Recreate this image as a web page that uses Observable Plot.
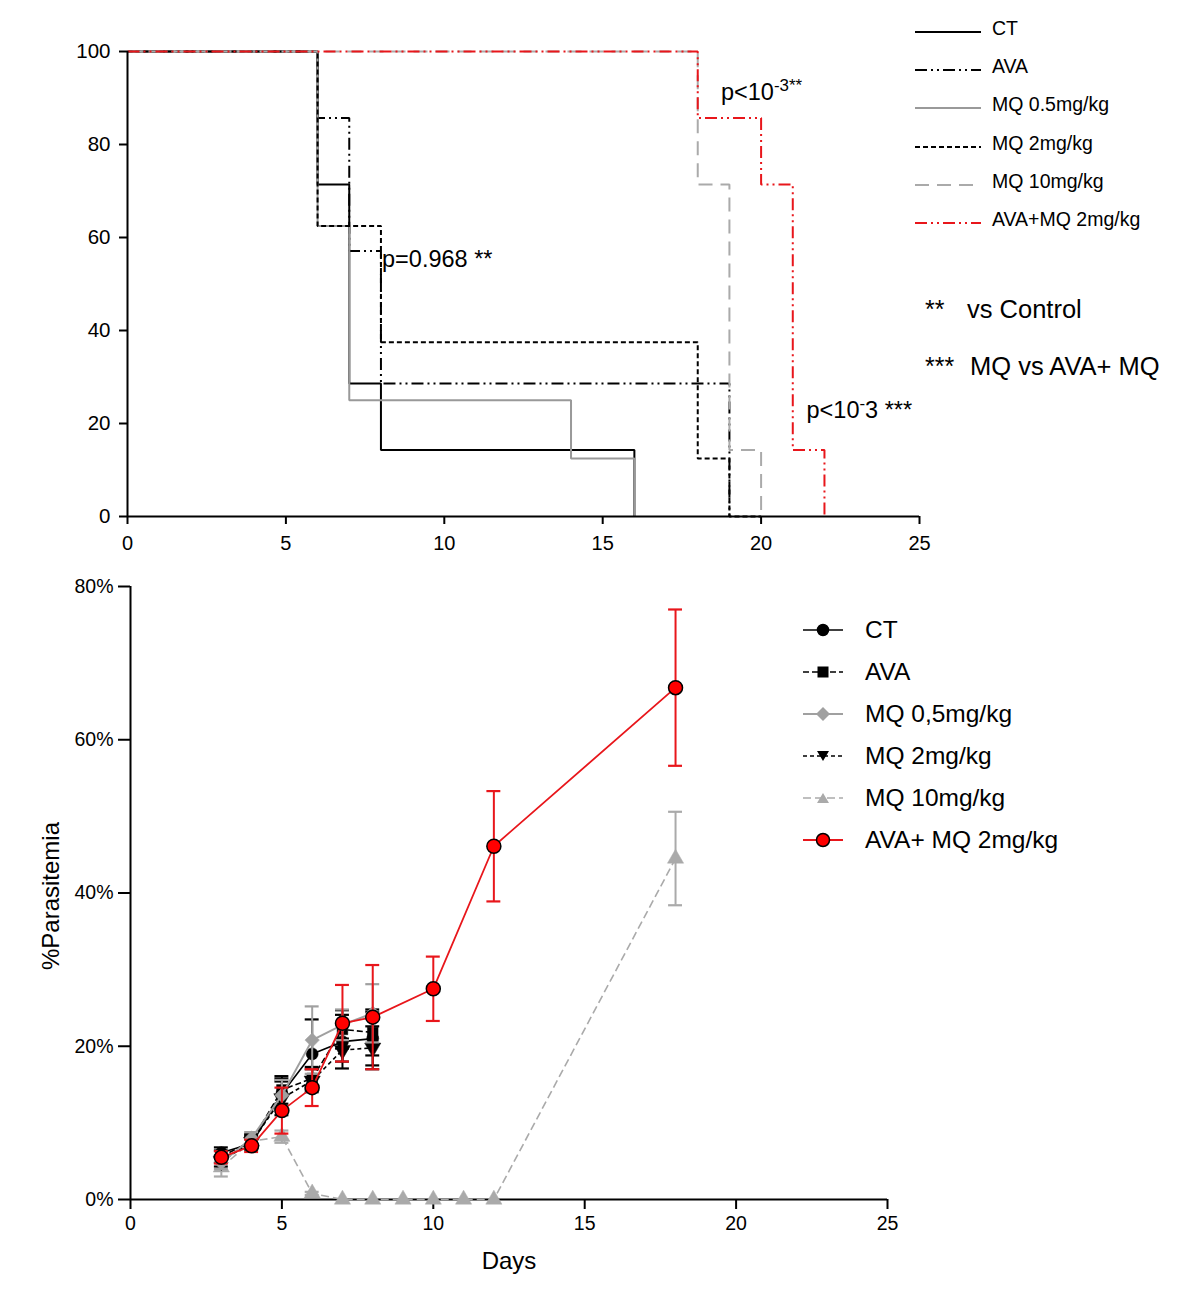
<!DOCTYPE html>
<html><head><meta charset="utf-8">
<script src="https://cdn.jsdelivr.net/npm/d3@7"></script>
<script src="https://cdn.jsdelivr.net/npm/@observablehq/plot@0.6"></script>
<style>
body{margin:0;background:#fff;font-family:"Liberation Sans",Arial,sans-serif;color:#000;}
#wrap{position:relative;width:1200px;height:1292px;overflow:hidden;}
#top,#bottom{position:absolute;left:0;}
#top{top:0}
#bottom{top:560px}
.abs{position:absolute;white-space:nowrap;line-height:1;}
.abs sup{font-size:0.72em;vertical-align:0.55em;line-height:0;}
</style></head><body><div id="wrap"><div id="top"></div><div id="bottom"></div></div>
<script>
// ---------- Top: survival (Kaplan-Meier) ----------
const kmSeries = ["CT", "AVA", "MQ 0.5mg/kg", "MQ 2mg/kg", "MQ 10mg/kg", "AVA+MQ 2mg/kg"];
const kmTimes = [
  [0, 6, 7, 8, 16],
  [0, 6, 7, 8, 19],
  [0, 6, 7, 14, 16],
  [0, 6, 8, 18, 19, 20],
  [0, 18, 19, 20],
  [0, 18, 20, 21, 22]
];
const kmSurv = [
  [100, 71.4, 28.6, 14.3, 0],
  [100, 85.7, 57.1, 28.6, 0],
  [100, 62.5, 25, 12.5, 0],
  [100, 62.5, 37.5, 12.5, 0, 0],
  [100, 71.4, 14.3, 0],
  [100, 85.7, 71.4, 14.3, 0]
];
const kmXTicks = [0, 5, 10, 15, 20, 25];
const kmYTicks = [0, 20, 40, 60, 80, 100];
const kmNotes = [
  {x: 8.05, y: 55, html: "p=0.968 **"},
  {x: 18.75, y: 91, html: "p&lt;10<sup>-3**</sup>"},
  {x: 21.45, y: 22.5, html: "p&lt;10<sup>-</sup>3 ***"}
];
const kmStatNotes = [["**", "vs Control"], ["***", "MQ vs AVA+ MQ"]];

// ---------- Bottom: parasitemia ----------
const parSeries = ["CT", "AVA", "MQ 0,5mg/kg", "MQ 2mg/kg", "MQ 10mg/kg", "AVA+ MQ 2mg/kg"];
const parDays = [
  [3, 4, 5, 6, 7, 8],
  [3, 4, 5, 6, 7, 8],
  [3, 4, 5, 6, 7, 8],
  [3, 4, 5, 6, 7, 8],
  [3, 4, 5, 6, 7, 8, 9, 10, 11, 12, 18],
  [3, 4, 5, 6, 7, 8, 10, 12, 18]
];
const parValues = [
  [6.1, 7.3, 13.8, 19.0, 20.6, 21.0],
  [5.6, 7.6, 14.3, 15.8, 22.2, 21.8],
  [4.8, 8.0, 13.6, 20.8, 22.8, 24.3],
  [5.0, 7.5, 13.2, 15.5, 19.5, 19.8],
  [4.2, 7.6, 8.2, 0.8, 0, 0, 0, 0, 0, 0, 44.5],
  [5.5, 7.0, 11.6, 14.6, 23.0, 23.8, 27.5, 46.1, 66.8]
];
const parErrors = [
  [0.7, 0.8, 2.0, 4.5, 3.5, 3.5],
  [0.8, 0.9, 1.8, 1.5, 2.5, 3.0],
  [0.8, 0.8, 2.0, 4.4, 2.0, 3.8],
  [0.7, 0.8, 2.2, 1.5, 1.5, 2.8],
  [1.2, 1.0, 0.8, 0.2, 0, 0, 0, 0, 0, 0, 6.1],
  [0.8, 0.8, 3.0, 2.4, 5.0, 6.8, 4.2, 7.2, 10.2]
];
const parXTicks = [0, 5, 10, 15, 20, 25];
const parYTicks = [0, 20, 40, 60, 80];

// ---------- styles ----------
const FONT = '"Liberation Sans", Arial, Helvetica, sans-serif';
const kmStyle = [
  {stroke: "#000", width: 2, dash: null},
  {stroke: "#000", width: 2, dash: "12,4,2,4,2,4"},
  {stroke: "#999", width: 2, dash: null},
  {stroke: "#000", width: 2, dash: "5,3"},
  {stroke: "#aaa", width: 2, dash: "14,8"},
  {stroke: "#e8161b", width: 2, dash: "12,4,2,4,2,4"}
];
const parStyle = [
  {stroke: "#000", fill: "#000", width: 1.6, dash: null, symbol: "circle", r: 6, rotate: 0},
  {stroke: "#000", fill: "#000", width: 1.6, dash: "6,3", symbol: "square", r: 6, rotate: 0},
  {stroke: "#a0a0a0", fill: "#a0a0a0", width: 2, dash: null, symbol: "diamond2", r: 6.5, rotate: 0},
  {stroke: "#000", fill: "#000", width: 1.6, dash: "4,3", symbol: "triangle", r: 6, rotate: 180},
  {stroke: "#aaa", fill: "#aaa", width: 1.6, dash: "8,4", symbol: "triangle", r: 6, rotate: 0},
  {stroke: "#e8161b", fill: "#ff0000", width: 1.8, dash: null, symbol: "circle", r: 7, rotate: 0}
];

// ---------- top plot ----------
const kmRows = kmSeries.map((s, i) => kmTimes[i].map((t, j) => ({series: s, t, surv: kmSurv[i][j]})));
const topPlot = Plot.plot({
  width: 1200, height: 560,
  marginLeft: 127, marginRight: 281, marginTop: 51, marginBottom: 44,
  style: {fontFamily: FONT, fontSize: "20px", color: "#000", background: "transparent", overflow: "visible"},
  x: {domain: [0, 25]},
  y: {domain: [0, 100]},
  marks: [
    Plot.axisX({ticks: kmXTicks, tickSize: 8, tickPadding: 11, strokeWidth: 2, label: null, fontSize: 20, tickFormat: d => d}),
    Plot.axisY({ticks: kmYTicks, tickSize: 8, tickPadding: 9, strokeWidth: 2, label: null, fontSize: 20.5, tickFormat: d => d}),
    ...kmRows.map((rows, i) => Plot.line(rows, {
      x: "t", y: "surv", curve: "step-after",
      stroke: kmStyle[i].stroke, strokeWidth: kmStyle[i].width,
      strokeDasharray: kmStyle[i].dash, strokeLinecap: "butt", strokeLinejoin: "miter"
    })),
    Plot.ruleX([0], {strokeWidth: 2}),
    Plot.ruleY([0], {strokeWidth: 2})
  ]
});
document.getElementById("top").appendChild(topPlot);

// ---------- bottom plot ----------
const parRows = parSeries.map((s, i) => parDays[i].map((d, j) => ({series: s, day: d, v: parValues[i][j], e: parErrors[i][j]})));
const drawOrder = [4, 0, 1, 3, 2, 5];
const capHalf = 0.23;
const botMarks = [
  Plot.axisX({ticks: parXTicks, tickSize: 10, tickPadding: 7, strokeWidth: 2, label: null, fontSize: 19.5, tickFormat: d => d}),
  Plot.axisY({ticks: parYTicks, tickSize: 12, tickPadding: 5, strokeWidth: 2, label: null, fontSize: 19.5, tickFormat: d => d + "%"}),
  Plot.ruleX([0], {strokeWidth: 2}),
  Plot.ruleY([0], {strokeWidth: 2})
];
for (const i of drawOrder) {
  const st = parStyle[i];
  const rows = parRows[i];
  const er = rows.filter(d => d.e > 0);
  botMarks.push(
    Plot.line(rows, {x: "day", y: "v", stroke: st.stroke, strokeWidth: st.width, strokeDasharray: st.dash, strokeLinecap: "butt"}),
    Plot.ruleX(er, {x: "day", y1: d => d.v - d.e, y2: d => d.v + d.e, stroke: st.stroke, strokeWidth: 2}),
    Plot.ruleY(er, {y: d => d.v + d.e, x1: d => d.day - capHalf, x2: d => d.day + capHalf, stroke: st.stroke, strokeWidth: 2.2}),
    Plot.ruleY(er, {y: d => d.v - d.e, x1: d => d.day - capHalf, x2: d => d.day + capHalf, stroke: st.stroke, strokeWidth: 2.2}),
    Plot.dot(rows, {x: "day", y: "v", symbol: st.symbol, r: st.r, rotate: st.rotate, fill: st.fill,
      stroke: i === 5 ? "#000" : st.fill, strokeWidth: i === 5 ? 1.5 : 0.5})
  );
}
botMarks.push(
  Plot.text(["Days"], {frameAnchor: "bottom", dy: 62, text: d => d, fontSize: 24, lineAnchor: "middle", textAnchor: "middle"}),
  Plot.text(["%Parasitemia"], {frameAnchor: "left", dx: -79, dy: 3, rotate: -90, text: d => d, fontSize: 24, lineAnchor: "middle", textAnchor: "middle"})
);
const botPlot = Plot.plot({
  width: 1200, height: 732,
  marginLeft: 130, marginRight: 313, marginTop: 26, marginBottom: 93,
  style: {fontFamily: FONT, fontSize: "19.5px", color: "#000", background: "transparent", overflow: "visible"},
  x: {domain: [0, 25]},
  y: {domain: [0, 80]},
  marks: botMarks
});
document.getElementById("bottom").appendChild(botPlot);

// ---------- legends & annotations ----------
const wrap = document.getElementById("wrap");
function addAbs(html, left, top, style) {
  const el = document.createElement("div");
  el.className = "abs";
  el.style.left = left + "px";
  el.style.top = top + "px";
  if (style) el.style.cssText += style;
  el.innerHTML = html;
  wrap.appendChild(el);
  return el;
}
const sx = topPlot.scale("x"), sy = topPlot.scale("y");
kmNotes.forEach(n => {
  addAbs(n.html, sx.apply(n.x), sy.apply(n.y) - 12, "font-size:23.5px;");
});
kmSeries.forEach((s, i) => {
  const y = 29 + i * 38.2;
  const st = kmStyle[i];
  addAbs(`<svg width="66" height="10"><line x1="0" x2="66" y1="5" y2="5" stroke="${st.stroke}" stroke-width="2" ${st.dash ? `stroke-dasharray="${st.dash}"` : ""}/></svg>`, 915, y - 5);
  addAbs(s, 992, y - 10, "font-size:19.5px;");
});
kmStatNotes.forEach((n, i) => {
  const y = i === 0 ? 310 : 367;
  addAbs(n[0], 925, y - 13, "font-size:25px;");
  addAbs(n[1], i === 0 ? 967 : 970, y - 13, "font-size:25.5px;");
});
function markerSvg(st) {
  const c = 20;
  if (st.symbol === "circle") return `<circle cx="${c}" cy="10" r="${st.r - 0.5}" fill="${st.fill}" stroke="${st.fill === "#ff0000" ? "#000" : st.fill}" stroke-width="1.5"/>`;
  if (st.symbol === "square") return `<rect x="${c - 5.5}" y="4.5" width="11" height="11" fill="${st.fill}"/>`;
  if (st.symbol === "diamond2") return `<polygon points="${c},3 ${c + 7},10 ${c},17 ${c - 7},10" fill="${st.fill}"/>`;
  if (st.rotate === 180) return `<polygon points="${c - 6},5 ${c + 6},5 ${c},15" fill="${st.fill}"/>`;
  return `<polygon points="${c - 6},15 ${c + 6},15 ${c},5" fill="${st.fill}"/>`;
}
parSeries.forEach((s, i) => {
  const y = 630 + i * 42;
  const st = parStyle[i];
  addAbs(`<svg width="40" height="20"><line x1="0" x2="40" y1="10" y2="10" stroke="${st.stroke}" stroke-width="${st.width}" ${st.dash ? `stroke-dasharray="${st.dash}"` : ""}/>${markerSvg(st)}</svg>`, 803, y - 10);
  addAbs(s, 865, y - 12, "font-size:24.5px;");
});
</script></body></html>
